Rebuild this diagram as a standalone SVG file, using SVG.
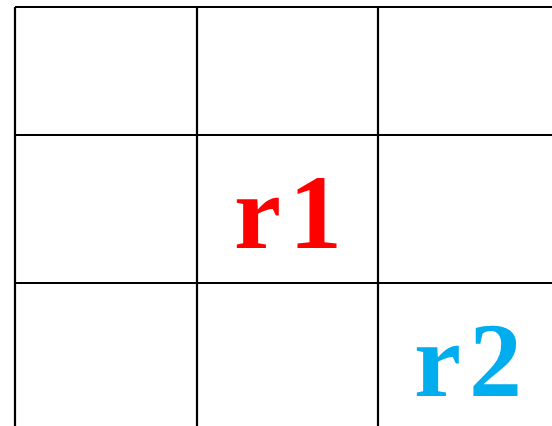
<svg xmlns="http://www.w3.org/2000/svg" width="552" height="426" viewBox="0 0 552 426">
<style>
.grid{stroke:#000;stroke-width:2.2;fill:none}
.lbl{font-family:"Liberation Serif","DejaVu Serif",serif;font-weight:bold;font-size:106px;letter-spacing:8px}
</style>
<rect width="552" height="426" fill="#fff"/>
<g id="grid" class="grid">
<line x1="15" y1="7" x2="552" y2="7"/>
<line x1="15" y1="135" x2="552" y2="135"/>
<line x1="15" y1="283" x2="552" y2="283"/>
<line x1="15" y1="7" x2="15" y2="426"/>
<line x1="197" y1="7" x2="197" y2="426"/>
<line x1="378" y1="7" x2="378" y2="426"/>
</g>
<g id="r1"><text class="lbl" x="234" y="248" fill="#ff0000">r1</text></g>
<g id="r2"><text class="lbl" x="414" y="396" fill="#00aeef">r2</text></g>
</svg>
